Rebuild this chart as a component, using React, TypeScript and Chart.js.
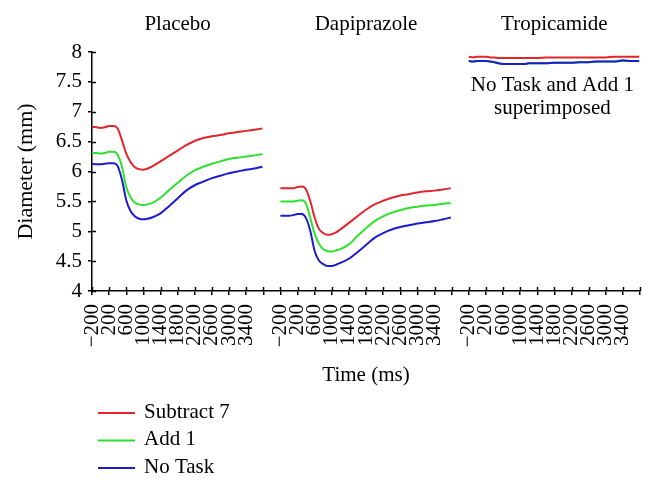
import React, { useEffect, useRef } from "react";
import { Chart, registerables } from "chart.js";

Chart.register(...registerables);

const FONT = "'Liberation Serif', 'Times New Roman', serif";

const PANELS = ["Placebo", "Dapiprazole", "Tropicamide"];
const SERIES = ["Subtract 7", "Add 1", "No Task"];
const COLORS = ["#e3262b", "#2fe02f", "#1c1ccf"];

const TIMES = [-200, -100, 0, 100, 200, 300, 400, 500, 600, 700, 800, 900, 1000, 1100, 1200, 1400, 1600, 1800, 2000, 2200, 2400, 2600, 2800, 3000, 3200, 3400, 3600, 3780];

const placeboSub7 = [6.75, 6.74, 6.73, 6.74, 6.76, 6.76, 6.72, 6.52, 6.30, 6.16, 6.07, 6.04, 6.03, 6.05, 6.08, 6.17, 6.26, 6.35, 6.44, 6.51, 6.56, 6.59, 6.61, 6.64, 6.66, 6.68, 6.70, 6.72];
const placeboAdd1 = [6.31, 6.31, 6.30, 6.31, 6.33, 6.33, 6.28, 6.08, 5.74, 5.57, 5.48, 5.45, 5.44, 5.45, 5.47, 5.56, 5.69, 5.81, 5.93, 6.02, 6.08, 6.13, 6.17, 6.21, 6.23, 6.25, 6.27, 6.29];
const placeboNoTask = [6.13, 6.12, 6.12, 6.13, 6.14, 6.14, 6.09, 5.86, 5.52, 5.34, 5.25, 5.21, 5.20, 5.21, 5.23, 5.30, 5.42, 5.55, 5.68, 5.77, 5.83, 5.89, 5.93, 5.97, 6.00, 6.03, 6.05, 6.08];

const dapiSub7 = [5.72, 5.72, 5.72, 5.72, 5.74, 5.75, 5.70, 5.50, 5.23, 5.04, 4.97, 4.94, 4.95, 4.98, 5.03, 5.14, 5.25, 5.36, 5.45, 5.51, 5.56, 5.60, 5.62, 5.65, 5.67, 5.68, 5.70, 5.72];
const dapiAdd1 = [5.50, 5.50, 5.50, 5.50, 5.51, 5.52, 5.46, 5.22, 4.96, 4.79, 4.70, 4.67, 4.66, 4.68, 4.70, 4.78, 4.92, 5.05, 5.17, 5.25, 5.31, 5.35, 5.39, 5.41, 5.43, 5.44, 5.46, 5.47];
const dapiNoTask = [5.26, 5.26, 5.26, 5.27, 5.29, 5.29, 5.22, 5.00, 4.67, 4.51, 4.45, 4.42, 4.42, 4.44, 4.47, 4.54, 4.65, 4.77, 4.89, 4.97, 5.03, 5.07, 5.10, 5.13, 5.15, 5.17, 5.20, 5.23];

const tropiSub7 = [7.92, 7.91, 7.92, 7.92, 7.92, 7.91, 7.91, 7.90, 7.90, 7.90, 7.90, 7.90, 7.90, 7.90, 7.90, 7.90, 7.91, 7.91, 7.91, 7.91, 7.91, 7.91, 7.91, 7.91, 7.92, 7.92, 7.92, 7.92];
const tropiAdd1 = [7.85, 7.84, 7.85, 7.85, 7.85, 7.84, 7.83, 7.81, 7.80, 7.80, 7.80, 7.80, 7.80, 7.80, 7.81, 7.81, 7.81, 7.82, 7.82, 7.82, 7.83, 7.83, 7.84, 7.84, 7.84, 7.85, 7.85, 7.85];
const tropiNoTask = [7.85, 7.84, 7.85, 7.85, 7.85, 7.84, 7.83, 7.81, 7.80, 7.80, 7.80, 7.80, 7.80, 7.80, 7.81, 7.81, 7.81, 7.82, 7.82, 7.82, 7.83, 7.83, 7.84, 7.84, 7.84, 7.86, 7.85, 7.85];

const SERIES_VALUES = [
  [placeboSub7, dapiSub7, tropiSub7],
  [placeboAdd1, dapiAdd1, tropiAdd1],
  [placeboNoTask, dapiNoTask, tropiNoTask],
];

// Axis layout: each panel spans -200..3800 ms, one 400 ms gap between panels
const T_START = -200;
const PANEL_SPAN = 4000;
const GAP = 400;
const PANEL_STRIDE = PANEL_SPAN + GAP;
const X_MAX = 3 * PANEL_SPAN + 2 * GAP;
const X_STEP = 400;
const LAST_LABEL = 3400;

const Y_MIN = 4;
const Y_MAX = 8;
const Y_STEP = 0.5;

const NOTE_LINES = ["No Task and Add 1", "superimposed"];

function buildData(panelArrays: number[][]) {
  const pts: { x: number; y: number | null }[] = [];
  panelArrays.forEach((vals, p) => {
    if (p > 0) pts.push({ x: p * PANEL_STRIDE - GAP / 2, y: null });
    TIMES.forEach((t, i) => {
      pts.push({ x: p * PANEL_STRIDE + (t - T_START), y: vals[i] });
    });
  });
  return pts;
}

const decorPlugin = {
  id: "decor",
  afterDraw(chart: any) {
    const { ctx, chartArea, scales } = chart;
    const xs = scales.x;
    const ys = scales.y;
    ctx.save();
    // inner half of cross tick marks
    ctx.strokeStyle = "#000";
    ctx.lineWidth = 1.5;
    ctx.beginPath();
    xs.ticks.forEach((tk: any) => {
      const px = Math.round(xs.getPixelForValue(tk.value)) + 0.5;
      ctx.moveTo(px, chartArea.bottom);
      ctx.lineTo(px, chartArea.bottom - 4);
    });
    ys.ticks.forEach((tk: any) => {
      const py = Math.round(ys.getPixelForValue(tk.value)) + 0.5;
      ctx.moveTo(chartArea.left, py);
      ctx.lineTo(chartArea.left + 4, py);
    });
    ctx.stroke();

    ctx.fillStyle = "#000";
    ctx.font = `21px ${FONT}`;
    ctx.textAlign = "center";
    ctx.textBaseline = "middle";
    PANELS.forEach((name, p) => {
      const cx = xs.getPixelForValue(p * PANEL_STRIDE + PANEL_SPAN / 2);
      ctx.fillText(name, cx, 24);
    });
    const nx = xs.getPixelForValue(2 * PANEL_STRIDE + PANEL_SPAN / 2);
    NOTE_LINES.forEach((line, i) => {
      ctx.fillText(line, nx - 2, 85 + i * 23);
    });

    // legend
    ctx.textAlign = "left";
    chart.data.datasets.forEach((ds: any, i: number) => {
      const y = 413 + i * 27.5;
      ctx.strokeStyle = ds.borderColor;
      ctx.lineWidth = 2;
      ctx.beginPath();
      ctx.moveTo(98, y);
      ctx.lineTo(135, y);
      ctx.stroke();
      ctx.fillStyle = "#000";
      ctx.fillText(ds.label, 144, y - 1);
    });
    ctx.restore();
  },
};

export default function App() {
  const ref = useRef<HTMLCanvasElement | null>(null);

  useEffect(() => {
    if (!ref.current) return;
    const chart = new Chart(ref.current, {
      type: "line",
      data: {
        datasets: SERIES.map((label, s) => ({
          label,
          data: buildData(SERIES_VALUES[s]),
          borderColor: COLORS[s],
          backgroundColor: COLORS[s],
          borderWidth: 2,
          pointRadius: 0,
          cubicInterpolationMode: "monotone" as const,
          spanGaps: false,
          order: s === 0 ? 0 : s === 2 ? 1 : 2,
        })),
      },
      options: {
        responsive: false,
        animation: false,
        devicePixelRatio: 1,
        layout: { padding: { top: 52, bottom: 100, left: 0, right: 13 } },
        plugins: { legend: { display: false }, tooltip: { enabled: false } },
        scales: {
          x: {
            type: "linear",
            min: 0,
            max: X_MAX,
            afterFit: (scale: any) => {
              scale.height = 97;
              scale.paddingLeft = 0;
              scale.paddingRight = 0;
            },
            afterBuildTicks: (scale: any) => {
              const t = [];
              for (let v = 0; v <= X_MAX; v += X_STEP) t.push({ value: v });
              scale.ticks = t;
            },
            ticks: {
              autoSkip: false,
              minRotation: 90,
              maxRotation: 90,
              padding: 9,
              color: "#000",
              font: { family: FONT, size: 21 },
              callback: (value: any) => {
                const v = Number(value);
                const p = Math.floor(v / PANEL_STRIDE);
                const local = v - p * PANEL_STRIDE + T_START;
                if (local > LAST_LABEL || local < T_START) return "";
                return local < 0 ? "\u2212" + Math.abs(local) : String(local);
              },
            },
            grid: {
              display: true,
              drawOnChartArea: false,
              drawTicks: true,
              tickLength: 4,
              color: "#000",
              lineWidth: 1.5,
            },
            border: { display: true, color: "#000", width: 1.5 },
            title: {
              display: true,
              text: "Time (ms)",
              color: "#000",
              font: { family: FONT, size: 21 },
              padding: { top: 4, bottom: 0 },
            },
          },
          y: {
            min: Y_MIN,
            max: Y_MAX,
            afterFit: (scale: any) => {
              scale.width = 92;
            },
            ticks: {
              stepSize: Y_STEP,
              padding: 6,
              color: "#000",
              font: { family: FONT, size: 21 },
              callback: (value: any) => String(Number(value)),
            },
            grid: {
              display: true,
              drawOnChartArea: false,
              drawTicks: true,
              tickLength: 4,
              color: "#000",
              lineWidth: 1.5,
            },
            border: { display: true, color: "#000", width: 1.5 },
            title: {
              display: true,
              text: "Diameter (mm)",
              color: "#000",
              font: { family: FONT, size: 22 },
              padding: { top: 13, bottom: 4 },
            },
          },
        },
      },
      plugins: [decorPlugin],
    });
    return () => chart.destroy();
  }, []);

  return (
    <div style={{ position: "absolute", left: 0, top: 0, width: 653, height: 488, background: "#fff" }}>
      <canvas ref={ref} width={653} height={488} style={{ display: "block", width: 653, height: 488 }} />
    </div>
  );
}
